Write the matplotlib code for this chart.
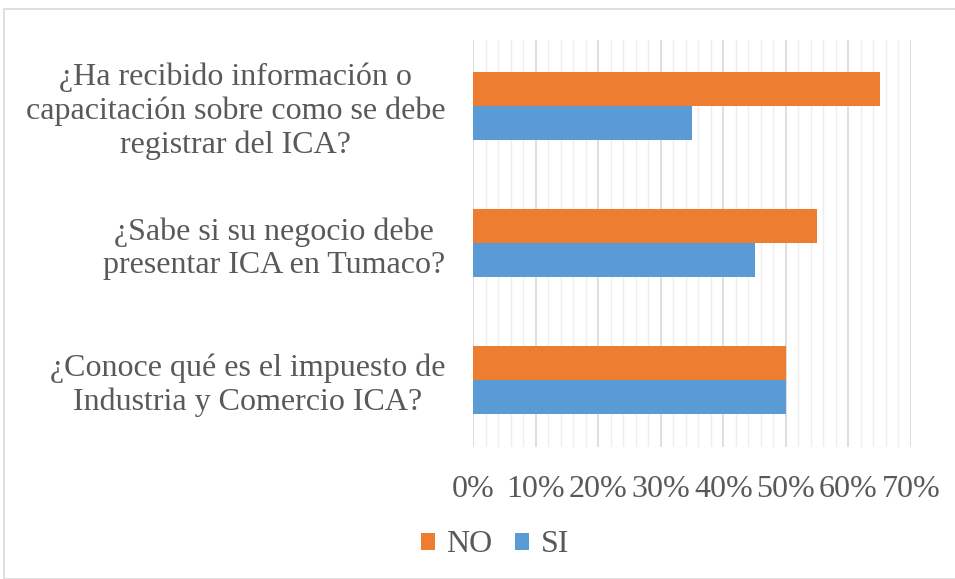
import matplotlib.pyplot as plt
from matplotlib.patches import Rectangle
from matplotlib.ticker import MultipleLocator, PercentFormatter

categories = ['¿Conoce qué es el impuesto de\nIndustria y Comercio ICA?',
              '¿Sabe si su negocio debe\npresentar ICA en Tumaco?',
              '¿Ha recibido información o\ncapacitación sobre como se debe\nregistrar del ICA?']
no_vals = [50, 55, 65]
si_vals = [50, 45, 35]

plt.rcParams['font.family'] = ['Liberation Serif', 'DejaVu Serif']

fig = plt.figure(figsize=(9.55, 5.79), dpi=100)
fig.patches.append(Rectangle((4 / 955, 0), 1, 1 - 9 / 579, transform=fig.transFigure,
                             fill=False, edgecolor='#d9d9d9', linewidth=1.2))
ax = fig.add_axes([473 / 955, 1 - 447 / 579, 438 / 955, 407 / 579])

y = range(len(categories))
h = 0.25
ax.barh([i + h / 2 for i in y], no_vals, height=h, color='#ed7d31', label='NO')
ax.barh([i - h / 2 for i in y], si_vals, height=h, color='#5b9bd5', label='SI')

ax.set_xlim(0, 70)
ax.set_ylim(-0.49, 2.48)
ax.xaxis.set_major_locator(MultipleLocator(10))
ax.xaxis.set_minor_locator(MultipleLocator(2))
ax.xaxis.set_major_formatter(PercentFormatter(decimals=0))
ax.grid(axis='x', which='major', color='#d9d9d9', linewidth=1.2)
ax.grid(axis='x', which='minor', color='#eeeeee', linewidth=1.0)
ax.set_axisbelow(True)
for s in ax.spines.values():
    s.set_visible(False)

ax.set_yticks(list(y))
ax.set_yticklabels(categories, multialignment='center', linespacing=1.2)
ax.tick_params(axis='y', length=0, pad=20, labelsize=23, labelcolor='#595959')
ax.tick_params(axis='x', which='both', length=0, pad=20, labelsize=23, labelcolor='#595959')

ax.legend(loc='center', bbox_to_anchor=(495 / 955, 1 - 545 / 579), bbox_transform=fig.transFigure,
          ncol=2, frameon=False, fontsize=23, labelcolor='#595959', handlelength=0.45,
          handleheight=0.45, handletextpad=0.35, columnspacing=0.7)

plt.savefig('out.png', dpi=100)
